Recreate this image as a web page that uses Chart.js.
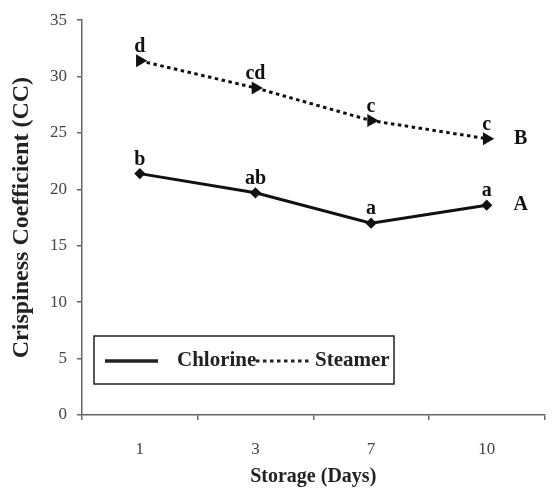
<!DOCTYPE html>
<html>
<head>
<meta charset="utf-8">
<script src="https://cdn.jsdelivr.net/npm/chart.js@4"></script>
<style>
  body { margin: 0; background: #fff; }
  #wrap { width: 552px; height: 489px; }
</style>
</head>
<body>
<div id="wrap"><canvas id="cc-line"></canvas></div>
<script>
var days = ["1", "3", "7", "10"];
var chlorine = [21.4, 19.7, 17.0, 18.6];
var steamer = [31.4, 29.0, 26.1, 24.5];
var chlorineLetters = ["b", "ab", "a", "a"];
var steamerLetters = ["d", "cd", "c", "c"];
var groupLetters = ["A", "B"];
var yMin = 0, yMax = 35, yStep = 5;

var serif = "'Liberation Serif', 'Times New Roman', serif";

// letters above points and the A / B group marks at the right
var letterPlugin = {
    id: 'letters',
    afterDatasetsDraw: function(chart) {
        var ctx = chart.ctx;
        var sets = [chlorineLetters, steamerLetters];
        ctx.save();
        ctx.fillStyle = '#111';
        ctx.font = 'bold 20px ' + serif;
        ctx.textAlign = 'center';
        chart.data.datasets.forEach(function(ds, i) {
            var pts = chart.getDatasetMeta(i).data;
            ctx.textBaseline = 'alphabetic';
            pts.forEach(function(p, j) {
                ctx.fillText(sets[i][j], p.x, p.y - 9);
            });
            var last = pts[pts.length - 1];
            ctx.textBaseline = 'middle';
            ctx.fillText(groupLetters[i], last.x + 34, last.y);
        });
        ctx.restore();
    }
};

// boxed legend inside the plot, bottom left
var boxLegend = {
    id: 'boxLegend',
    afterDraw: function(chart) {
        var ctx = chart.ctx, a = chart.chartArea;
        var x0 = a.left + 12, y0 = a.bottom - 79, w = 300, h = 48;
        var cy = y0 + h / 2 + 1;
        ctx.save();
        ctx.strokeStyle = '#222';
        ctx.lineWidth = 1.5;
        ctx.strokeRect(x0, y0, w, h);
        ctx.font = 'bold 21px ' + serif;
        ctx.fillStyle = '#222';
        ctx.textBaseline = 'middle';
        ctx.lineWidth = 3.5;
        ctx.beginPath();
        ctx.moveTo(x0 + 11, cy); ctx.lineTo(x0 + 64, cy);
        ctx.stroke();
        ctx.fillText(chart.data.datasets[0].label, x0 + 83, cy);
        ctx.lineWidth = 3;
        ctx.setLineDash([3.5, 3.5]);
        ctx.beginPath();
        ctx.moveTo(x0 + 162, cy); ctx.lineTo(x0 + 216, cy);
        ctx.stroke();
        ctx.setLineDash([]);
        ctx.fillText(chart.data.datasets[1].label, x0 + 221, cy);
        ctx.restore();
    }
};

new Chart(document.getElementById("cc-line"), {
    type: 'line',
    data: {
        labels: days,
        datasets: [{
            label: "Chlorine",
            data: chlorine,
            borderColor: '#111',
            backgroundColor: '#111',
            borderWidth: 3,
            pointStyle: 'rectRot',
            pointRadius: 3.5,
            tension: 0
        }, {
            label: "Steamer",
            data: steamer,
            borderColor: '#111',
            backgroundColor: '#111',
            borderWidth: 3,
            borderDash: [3.5, 3.5],
            pointStyle: 'triangle',
            rotation: 90,
            pointRadius: 4.5,
            tension: 0
        }]
    },
    options: {
        responsive: true,
        maintainAspectRatio: false,
        animation: false,
        layout: { padding: { top: 18, right: 3, left: 0, bottom: 0 } },
        plugins: {
            legend: { display: false },
            tooltip: { enabled: false }
        },
        scales: {
            x: {
                type: 'category',
                offset: true,
                afterFit: function(s) { s.height = 74; },
                grid: { offset: true, drawOnChartArea: false, tickLength: 5, color: '#666', lineWidth: 1.5 },
                border: { color: '#666', width: 1.5 },
                ticks: { font: { family: serif, size: 17 }, color: '#444', padding: 19 },
                title: {
                    display: true,
                    text: 'Storage (Days)',
                    font: { family: serif, size: 20, weight: 'bold' },
                    color: '#222',
                    padding: { top: 0, bottom: 0 }
                }
            },
            y: {
                min: yMin,
                max: yMax,
                afterFit: function(s) { s.width = 82; },
                grid: { drawOnChartArea: false, tickLength: 5, color: '#666', lineWidth: 1.5 },
                border: { color: '#666', width: 1.5 },
                ticks: { stepSize: yStep, font: { family: serif, size: 17 }, color: '#444', padding: 10 },
                title: {
                    display: true,
                    text: 'Crispiness Coefficient (CC)',
                    font: { family: serif, size: 24, weight: 'bold' },
                    color: '#222',
                    padding: { top: 7, bottom: 0 }
                }
            }
        }
    },
    plugins: [letterPlugin, boxLegend]
});
</script>
</body>
</html>
